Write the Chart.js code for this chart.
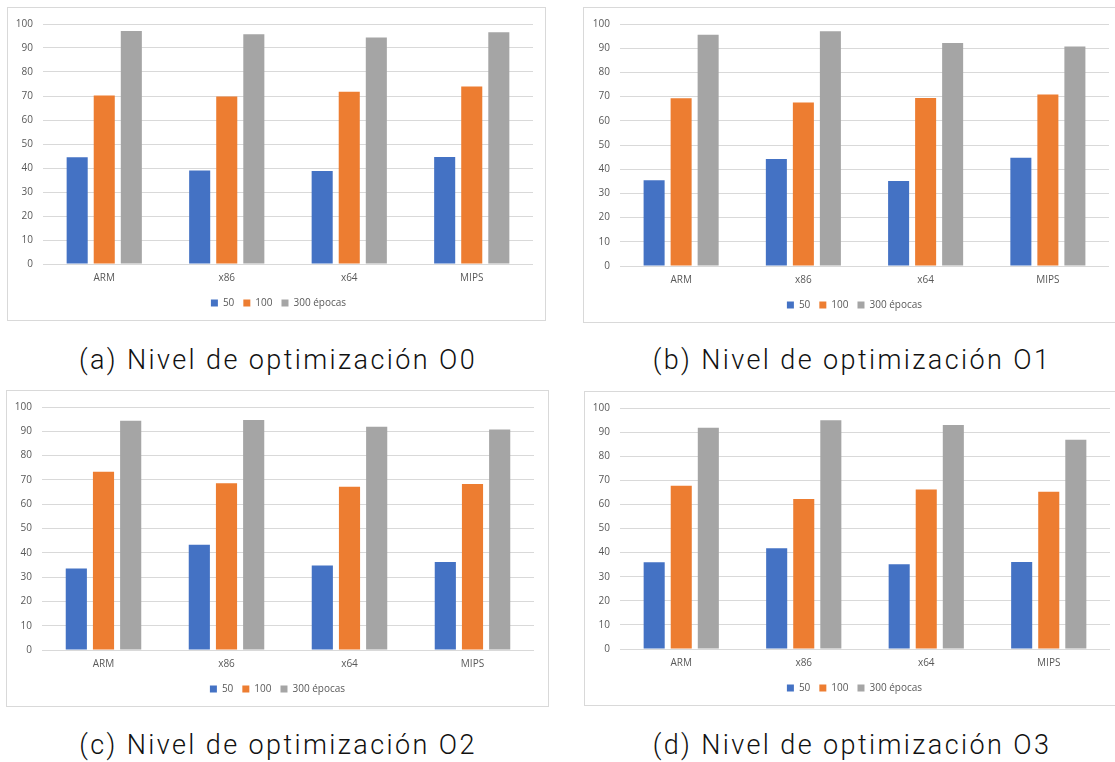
<!DOCTYPE html>
<html>
<head>
<meta charset="utf-8">
<script src="https://cdn.jsdelivr.net/npm/chart.js@4.4.1/dist/chart.umd.min.js"></script>
<style>
  body { margin: 0; background: #fff; width: 1115px; height: 762px; overflow: hidden; position: relative; }
  .box { position: absolute; border: 1px solid #d9d9d9; background: #fff; }
  .box canvas { display: block; }
  .caption { position: absolute; width: 560px; text-align: center; font-family: Roboto, "Noto Sans", sans-serif; font-weight: 300; font-size: 27px; letter-spacing: 2.4px; color: #111; line-height: 36px; white-space: nowrap; }
</style>
</head>
<body>

<div class="box" style="left:7px; top:7px;"><canvas id="chartA" width="537" height="312"></canvas></div>
<div class="box" style="left:583px; top:7px;"><canvas id="chartB" width="540" height="314"></canvas></div>
<div class="box" style="left:6px; top:390px;"><canvas id="chartC" width="541" height="315"></canvas></div>
<div class="box" style="left:584px; top:391px;"><canvas id="chartD" width="540" height="313"></canvas></div>

<div class="caption" style="left:-2px; top:342px;">(a) Nivel de optimización O0</div>
<div class="caption" style="left:572px; top:342px;">(b) Nivel de optimización O1</div>
<div class="caption" style="left:-2px; top:727px;">(c) Nivel de optimización O2</div>
<div class="caption" style="left:572px; top:727px;">(d) Nivel de optimización O3</div>

<script>
// categories and series names
var categories = ['ARM', 'x86', 'x64', 'MIPS'];
var seriesNames = ['50', '100', '300 épocas'];
var seriesColors = ['#4472C4', '#ED7D31', '#A5A5A5'];

// (a) O0
var o0_50 = [44.5, 39.0, 38.7, 44.6];
var o0_100 = [70.2, 69.8, 71.8, 74.0];
var o0_300 = [97.1, 95.7, 94.4, 96.6];

// (b) O1
var o1_50 = [35.4, 44.2, 35.1, 44.7];
var o1_100 = [69.3, 67.6, 69.4, 70.9];
var o1_300 = [95.6, 97.0, 92.2, 90.7];

// (c) O2
var o2_50 = [33.5, 43.3, 34.8, 36.2];
var o2_100 = [73.4, 68.6, 67.2, 68.3];
var o2_300 = [94.3, 94.7, 91.9, 90.7];

// (d) O3
var o3_50 = [36.0, 41.8, 35.2, 36.1];
var o3_100 = [67.7, 62.2, 66.2, 65.2];
var o3_300 = [91.8, 94.9, 92.9, 86.8];

var tickFont = { family: "'Open Sans', 'Noto Sans', sans-serif", size: 10 };
var tickColor = '#595959';
var gridColor = '#d9d9d9';

// the legend in the original is centred under the whole box, not the plot, so nudge it
var legendShift = {
  id: 'legendShift',
  afterLayout: function(chart, args, opts) {
    var dx = opts.dx || 0;
    chart.legend.left += dx;
    chart.legend.right += dx;
  }
};

function makeChart(id, v50, v100, v300, pad) {
  var series = [v50, v100, v300];
  var datasets = series.map(function(vals, i) {
    return {
      label: seriesNames[i],
      data: vals,
      backgroundColor: seriesColors[i],
      borderWidth: 0,
      categoryPercentage: 0.663,
      barPercentage: 0.778
    };
  });

  var ctx = document.getElementById(id).getContext('2d');
  return new Chart(ctx, {
    type: 'bar',
    data: { labels: categories, datasets: datasets },
    plugins: [legendShift],
    options: {
      responsive: false,
      animation: false,
      events: [],
      layout: {
        padding: { top: pad.top, right: pad.right, bottom: pad.bottom, left: 0 }
      },
      plugins: {
        title: { display: false },
        tooltip: { enabled: false },
        legendShift: { dx: pad.legendDx },
        legend: {
          position: 'bottom',
          labels: {
            boxWidth: 7,
            boxHeight: 7,
            padding: 9,
            color: tickColor,
            font: tickFont
          }
        }
      },
      scales: {
        x: {
          grid: { display: false, drawTicks: false },
          border: { display: false },
          ticks: { color: tickColor, font: tickFont, padding: 8 },
          afterFit: function(scale) { scale.height = 25; }
        },
        y: {
          min: 0,
          max: 100,
          grid: { color: gridColor, lineWidth: 1, drawTicks: false },
          border: { display: false },
          ticks: { stepSize: 10, color: tickColor, font: tickFont, padding: 10 },
          afterFit: function(scale) { scale.width = pad.left; }
        }
      }
    }
  });
}

makeChart('chartA', o0_50, o0_100, o0_300, { top: 13, right: 12, bottom: 2, left: 35, legendDx: 8 });
makeChart('chartB', o1_50, o1_100, o1_300, { top: 14, right: 15, bottom: 2, left: 36, legendDx: 8 });
makeChart('chartC', o2_50, o2_100, o2_300, { top: 13, right: 14, bottom: 2, left: 35, legendDx: 7 });
makeChart('chartD', o3_50, o3_100, o3_300, { top: 13, right: 15, bottom: 2, left: 35, legendDx: 7 });
</script>
</body>
</html>
